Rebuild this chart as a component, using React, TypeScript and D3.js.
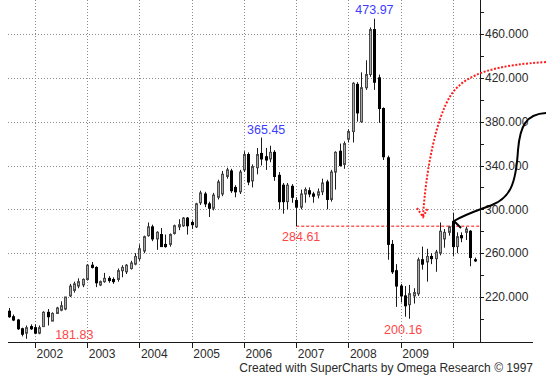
import React from "react";
import * as d3 from "d3";

const W = 546;
const H = 384;

// monthly candles, Jul 2001 .. Jun 2010
const opens = [
  207, 202, 199, 191, 187, 193, 192, 187, 193, 206, 198, 205,
  208, 209, 221, 226, 230, 231, 236, 249, 247, 231, 234, 237,
  236, 236, 244, 243, 246, 250, 255, 262, 276, 284, 273, 277,
  268, 268, 278, 284, 285, 292, 288, 284, 306, 314, 305, 301,
  311, 314, 330, 335, 320, 316, 336, 350, 326, 338, 351, 348,
  346, 352, 331, 322, 307, 321, 308, 302, 314, 317, 314, 313,
  316, 325, 309, 334, 353, 341, 364, 371, 414, 380, 411, 423,
  464, 420, 392, 347, 268, 244, 230, 221, 213, 221, 223, 254,
  252, 257, 255, 260, 273, 279, 289, 266, 276, 279, 280, 254,
];
const highs = [
  210, 204, 200, 192, 194, 195, 195, 194, 207, 209, 206, 211,
  216, 220, 232, 234, 237, 237, 250, 252, 248, 235, 242, 239,
  238, 246, 249, 250, 253, 260, 268, 276, 288, 286, 280, 283,
  277, 278, 286, 291, 293, 293, 290, 306, 317, 316, 307, 315,
  327, 335, 338, 337, 322, 336, 353, 352, 341, 356, 365.45, 356,
  358, 354, 334, 324, 324, 323, 311, 318, 320, 320, 316, 319,
  328, 327, 336, 353, 360, 362, 373, 416, 416, 425, 436, 466,
  473.97, 423, 393, 349, 272, 250, 232, 230, 231, 228, 256, 266,
  264, 260, 263, 288, 282, 285, 297, 279, 279, 284, 281, 256,
];
const lows = [
  201, 198, 190, 184, 181.83, 190, 186, 186, 193, 194, 198, 205,
  207, 208, 220, 224, 228, 229, 235, 246, 229, 230, 233, 233,
  232, 234, 238, 241, 245, 249, 253, 260, 275, 271, 263, 266,
  265, 266, 277, 281, 284, 277, 282, 283, 304, 302, 293, 299,
  309, 312, 328, 315, 311, 314, 334, 322, 320, 332, 340, 336,
  343, 326, 300, 296, 300, 306, 284.61, 300, 306, 311, 306, 310,
  313, 300, 307, 318, 339, 337, 361, 361, 380, 379, 409, 421,
  409, 379, 345, 254, 241, 211, 215, 202, 200.16, 214, 221, 245,
  234, 250, 243, 258, 265, 276, 257, 260, 270, 272, 248, 252,
];
const closes = [
  202, 199, 191, 186, 192, 191, 187, 192, 206, 202, 205, 210,
  212, 220, 230, 232, 234, 236, 249, 247, 233, 234, 237, 235,
  234, 244, 247, 249, 251, 257, 264, 275, 284, 273, 279, 266,
  266, 277, 285, 286, 292, 285, 286, 305, 315, 305, 301, 313,
  325, 332, 336, 317, 316, 334, 350, 325, 339, 350, 346, 345,
  352, 330, 307, 307, 322, 311, 302, 314, 318, 314, 312, 316,
  324, 309, 334, 352, 340, 360, 371, 415, 388, 411, 423, 464,
  416, 392, 348, 268, 243, 230, 221, 212, 223, 224, 254, 250,
  257, 255, 261, 280, 279, 284, 266, 275, 274, 282, 256, 253,
];

const months = d3.timeMonth.range(new Date(2001, 6, 1), new Date(2010, 6, 1));

const gridValues = [220, 260, 300, 340, 380, 420, 460];
const axisTicks = [200, 220, 240, 260, 280, 300, 320, 340, 360, 380, 400, 420, 440, 460, 480];
const yearTicks = [2002, 2003, 2004, 2005, 2006, 2007, 2008, 2009, 2010];
const yearLabels = ["2002", "2003", "2004", "2005", "2006", "2007", "2008", "2009"];

const BLUE = "#3c3cff";
const RED = "#ff4646";

// extreme-value labels: candle index, value, color, offsets of the text
const annotations = [
  { text: "473.97", index: 84, value: 473.97, color: BLUE, dx: 0, dy: -5 },
  { text: "365.45", index: 58, value: 365.45, color: BLUE, dx: 5, dy: -4 },
  { text: "284.61", index: 66, value: 284.61, color: RED, dx: 5, dy: 15 },
  { text: "181.83", index: 4, value: 181.83, color: RED, dx: 48, dy: 0 },
  { text: "200.16", index: 92, value: 200.16, color: RED, dx: -6, dy: 15 },
];

const left = 8;
const right = 480;
const bottom = 342;

const xScale = d3
  .scaleTime()
  .domain([new Date(2002, 0, 1), new Date(2010, 0, 1)])
  .range([35, 453]);

const yScale = d3.scaleLinear().domain([220, 460]).range([297, 34]);

const font = "'Liberation Sans', Arial, sans-serif";

export default function App() {
  const candles = months.map((d, i) => {
    const cx = Math.round(xScale(d));
    const o = opens[i];
    const c = closes[i];
    const up = c >= o;
    const top = yScale(Math.max(o, c));
    const bot = yScale(Math.min(o, c));
    return (
      <g key={i}>
        <line
          x1={cx + 0.5}
          x2={cx + 0.5}
          y1={yScale(highs[i])}
          y2={yScale(lows[i])}
          stroke="#1a1a1a"
          strokeWidth={1}
        />
        <rect
          x={cx - 0.5}
          y={top}
          width={2}
          height={Math.max(bot - top, 1)}
          fill={up ? "#a6a6a6" : "#000"}
          stroke={up ? "#4a4a4a" : "#000"}
          strokeWidth={1}
        />
      </g>
    );
  });

  const lowY = yScale(284.61);
  const lowX = xScale(months[66]);

  return (
    <svg
      width={W}
      height={H}
      style={{ position: "absolute", left: 0, top: 0, background: "#fff" }}
      fontFamily={font}
    >
      <rect width={W} height={H} fill="#fff" />

      {/* grid */}
      {gridValues.map((v) => (
        <line
          key={"h" + v}
          x1={left}
          x2={right}
          y1={Math.round(yScale(v)) + 0.5}
          y2={Math.round(yScale(v)) + 0.5}
          stroke="#8c8c8c"
          strokeDasharray="1,2"
        />
      ))}
      {yearTicks.map((yr) => {
        const x = Math.round(xScale(new Date(yr, 0, 1))) + 0.5;
        return (
          <line
            key={"v" + yr}
            x1={x}
            x2={x}
            y1={0}
            y2={bottom}
            stroke="#8c8c8c"
            strokeDasharray="1,2"
          />
        );
      })}

      {/* 284.61 level */}
      <line
        x1={lowX}
        x2={right}
        y1={lowY}
        y2={lowY}
        stroke="#ff5a5a"
        strokeWidth={1.6}
        strokeDasharray="3,2"
      />

      {candles}

      {/* axes */}
      <line x1={right + 0.5} x2={right + 0.5} y1={0} y2={bottom} stroke="#1a1a1a" />
      <line x1={left} x2={533} y1={bottom + 0.5} y2={bottom + 0.5} stroke="#1a1a1a" />
      {axisTicks.map((v) => {
        const y = Math.round(yScale(v)) + 0.5;
        return (
          <line key={"t" + v} x1={right} x2={right + 4} y1={y} y2={y} stroke="#1a1a1a" />
        );
      })}
      {gridValues.map((v) => (
        <text
          key={"l" + v}
          x={right + 5}
          y={yScale(v)}
          dy="0.36em"
          fontSize={12}
          fill="#2a2a2a"
        >
          {v.toFixed(3)}
        </text>
      ))}
      {yearTicks.map((yr) => {
        const x = Math.round(xScale(new Date(yr, 0, 1))) + 0.5;
        return (
          <line key={"yt" + yr} x1={x} x2={x} y1={bottom} y2={bottom + 6} stroke="#1a1a1a" />
        );
      })}
      {yearLabels.map((lab) => (
        <text
          key={"yl" + lab}
          x={xScale(new Date(+lab, 0, 1)) + 1.5}
          y={358}
          fontSize={12}
          fill="#2a2a2a"
        >
          {lab}
        </text>
      ))}

      {/* value labels */}
      {annotations.map((a) => (
        <text
          key={a.text}
          x={xScale(months[a.index]) + a.dx}
          y={yScale(a.value) + a.dy}
          textAnchor="middle"
          fontSize={12.5}
          fill={a.color}
        >
          {a.text}
        </text>
      ))}

      {/* red dotted arrow */}
      <path
        d="M546,62 C500,65 466,72 451,95 C436,118 426,170 423,216"
        fill="none"
        stroke="#ff1e1e"
        strokeWidth={2}
        strokeDasharray="2,1.6"
      />
      <path
        d="M417,208 L423,217 L428,208"
        fill="none"
        stroke="#ff1e1e"
        strokeWidth={2}
        strokeDasharray="2,1.6"
      />

      {/* black arrow */}
      <path
        d="M546,113 C526,114 520,126 518,150 C516,184 510,198 492,205 C476,211 466,214 454,221"
        fill="none"
        stroke="#000"
        strokeWidth={2}
      />
      <path d="M454,221 L461,228" fill="none" stroke="#000" strokeWidth={2} />

      <text x={533} y={372} textAnchor="end" fontSize={12} fill="#2a2a2a">
        Created with SuperCharts by Omega Research © 1997
      </text>
    </svg>
  );
}
